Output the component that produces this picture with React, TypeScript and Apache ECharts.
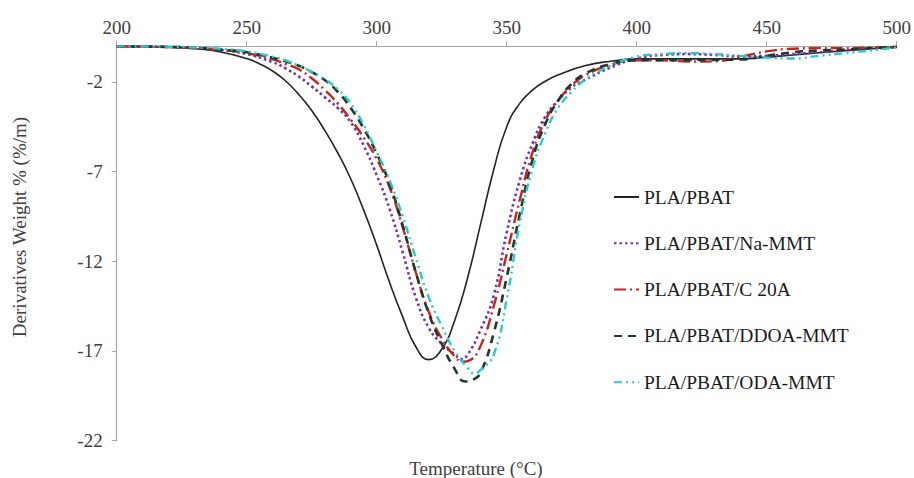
import React, { useEffect, useRef } from "react";
import * as echarts from "echarts";

const seriesNames = [
  "PLA/PBAT",
  "PLA/PBAT/Na-MMT",
  "PLA/PBAT/C 20A",
  "PLA/PBAT/DDOA-MMT",
  "PLA/PBAT/ODA-MMT",
];

const plaPbat: [number, number][] = [
  [200, -0.02], [220, -0.07], [230, -0.15], [240, -0.33], [250, -0.7], [255, -1.0], [260, -1.4], [265, -1.95],
  [270, -2.7], [275, -3.6], [280, -4.7], [285, -5.95], [290, -7.4], [295, -9.15], [300, -11.1], [305, -13.2],
  [310, -15.1], [315, -16.75], [320, -17.48], [325, -16.9], [330, -15.3], [335, -12.9], [340, -9.9], [345, -6.9],
  [350, -4.5], [355, -3.2], [360, -2.45], [365, -1.95], [370, -1.6], [380, -1.1], [390, -0.85], [400, -0.72],
  [420, -0.72], [440, -0.72], [450, -0.62], [460, -0.5], [470, -0.38], [480, -0.26], [490, -0.15], [500, -0.05],
];

const naMmt: [number, number][] = [
  [200, -0.02], [220, -0.05], [230, -0.1], [240, -0.22], [250, -0.45], [260, -0.9], [265, -1.25], [270, -1.7],
  [275, -2.25], [280, -2.85], [285, -3.45], [290, -4.25], [295, -5.55], [300, -7.2], [305, -9.1], [310, -11.5],
  [315, -14.0], [320, -15.7], [325, -16.6], [330, -17.2], [332.5, -17.45], [335, -17.2], [340, -15.8], [345, -13.9],
  [350, -10.4], [355, -7.5], [360, -5.4], [365, -3.9], [370, -3.0], [375, -2.3], [380, -1.9], [390, -1.2],
  [400, -0.7], [410, -0.5], [420, -0.45], [430, -0.5], [440, -0.58], [450, -0.55], [460, -0.45], [470, -0.35],
  [480, -0.25], [490, -0.15], [500, -0.08],
];

const c20a: [number, number][] = [
  [200, -0.02], [220, -0.06], [230, -0.12], [240, -0.22], [250, -0.4], [260, -0.75], [265, -1.0], [270, -1.3],
  [275, -1.8], [280, -2.45], [285, -3.2], [290, -4.1], [295, -5.1], [300, -6.3], [305, -7.9], [310, -10.1],
  [315, -12.6], [320, -14.8], [325, -16.3], [330, -17.3], [333, -17.6], [336, -17.5], [340, -16.7], [345, -14.5],
  [350, -11.6], [355, -8.6], [360, -5.9], [365, -4.1], [370, -3.0], [375, -2.2], [380, -1.65], [390, -1.05],
  [400, -0.8], [410, -0.8], [420, -0.87], [430, -0.85], [440, -0.6], [450, -0.3], [460, -0.15], [470, -0.12],
  [480, -0.12], [490, -0.08], [500, -0.05],
];

const ddoaMmt: [number, number][] = [
  [200, -0.02], [220, -0.05], [230, -0.1], [240, -0.2], [250, -0.35], [260, -0.65], [265, -0.85], [270, -1.1],
  [275, -1.45], [280, -1.9], [285, -2.55], [290, -3.45], [295, -4.6], [300, -6.0], [305, -7.7], [310, -10.0],
  [315, -12.6], [320, -14.9], [325, -16.6], [330, -18.0], [334, -18.7], [337, -18.6], [340, -18.2], [345, -16.0],
  [350, -12.9], [355, -9.4], [360, -6.3], [365, -4.3], [370, -3.0], [375, -2.1], [380, -1.55], [390, -1.0],
  [400, -0.8], [420, -0.78], [440, -0.75], [450, -0.55], [460, -0.35], [470, -0.25], [480, -0.2], [490, -0.12],
  [500, -0.05],
];

const odaMmt: [number, number][] = [
  [200, -0.02], [220, -0.04], [230, -0.08], [240, -0.15], [250, -0.3], [260, -0.6], [265, -0.8], [270, -1.1],
  [275, -1.45], [280, -1.85], [285, -2.4], [290, -3.2], [295, -4.4], [300, -5.9], [305, -7.5], [310, -9.5],
  [315, -11.8], [320, -14.0], [325, -15.6], [330, -17.0], [335, -17.95], [337.5, -18.25], [340, -18.05], [345, -17.2],
  [350, -14.1], [355, -9.9], [360, -6.8], [365, -4.8], [370, -3.4], [375, -2.55], [380, -1.9], [390, -1.1],
  [400, -0.6], [410, -0.45], [420, -0.4], [430, -0.45], [440, -0.55], [450, -0.65], [460, -0.7], [470, -0.55],
  [480, -0.4], [490, -0.25], [500, -0.08],
];

const xTicks = { min: 200, max: 500, interval: 50 };
const yTicks = { min: -22, max: 0, interval: 5 };

const FONT = "'Liberation Serif', 'Times New Roman', serif";

export default function App() {
  const ref = useRef<HTMLDivElement>(null);

  useEffect(() => {
    if (!ref.current) return;
    const chart = echarts.init(ref.current, undefined, { renderer: "svg" });

    const styles = [
      { color: "#22232e", type: "solid" as any, width: 1.6 },
      { color: "#7a2fa8", type: [2.5, 3] as any, width: 2.6 },
      { color: "#c0281c", type: [12, 4, 2, 4] as any, width: 2.4 },
      { color: "#1e3a2c", type: [8, 6] as any, width: 2.6 },
      { color: "#2ec8c8", type: [8, 4, 2, 4, 2, 4] as any, width: 2.4 },
    ];
    const datas = [plaPbat, naMmt, c20a, ddoaMmt, odaMmt];

    chart.setOption({
      animation: false,
      backgroundColor: "#ffffff",
      grid: {
        left: 116.7,
        right: 17.3,
        top: 46,
        bottom: 37.3,
        containLabel: false,
        outerBoundsMode: "none",
      },
      xAxis: {
        type: "value",
        position: "top",
        min: xTicks.min,
        max: xTicks.max,
        interval: xTicks.interval,
        axisLine: { show: true, lineStyle: { color: "#a6a6a6", width: 1.2 } },
        axisTick: { show: true, length: 5, lineStyle: { color: "#a6a6a6" } },
        splitLine: { show: false },
        axisLabel: { color: "#404040", fontFamily: FONT, fontSize: 19, margin: 9 },
      },
      yAxis: {
        type: "value",
        min: yTicks.min,
        max: yTicks.max,
        interval: yTicks.interval,
        axisLine: { show: true, onZero: false, lineStyle: { color: "#a6a6a6", width: 1.2 } },
        axisTick: { show: true, length: 5, lineStyle: { color: "#a6a6a6" } },
        splitLine: { show: false },
        axisLabel: {
          color: "#404040",
          fontFamily: FONT,
          fontSize: 19,
          margin: 14,
          showMaxLabel: false,
        },
      },
      legend: {
        orient: "vertical",
        left: 608,
        top: 182,
        itemWidth: 25,
        itemHeight: 18,
        itemGap: 26.3,
        itemStyle: { color: "rgba(0,0,0,0)", borderColor: "rgba(0,0,0,0)", borderWidth: 0, opacity: 0 },
        textStyle: { color: "#1a1a1a", fontFamily: FONT, fontSize: 19.5, lineHeight: 18 },
        data: seriesNames,
      },
      graphic: [
        {
          type: "text",
          x: 476,
          y: 468,
          style: {
            text: "Temperature (°C)",
            align: "center",
            verticalAlign: "middle",
            fill: "#404040",
            font: `19px ${FONT}`,
          },
        },
        {
          type: "text",
          x: 19,
          y: 227,
          rotation: Math.PI / 2,
          style: {
            text: "Derivatives Weight % (%/m)",
            align: "center",
            verticalAlign: "middle",
            fill: "#404040",
            font: `19px ${FONT}`,
          },
        },
      ],
      series: seriesNames.map((name, i) => ({
        name,
        type: "line",
        data: datas[i],
        showSymbol: false,
        symbol: "none",
        smooth: 0.5,
        color: styles[i].color,
        lineStyle: { color: styles[i].color, type: styles[i].type, width: styles[i].width, cap: "butt" },
        z: 2 + i,
      })),
    });

    return () => chart.dispose();
  }, []);

  return (
    <div
      ref={ref}
      style={{ position: "absolute", left: 0, top: 0, width: 914, height: 478, background: "#fff" }}
    />
  );
}
